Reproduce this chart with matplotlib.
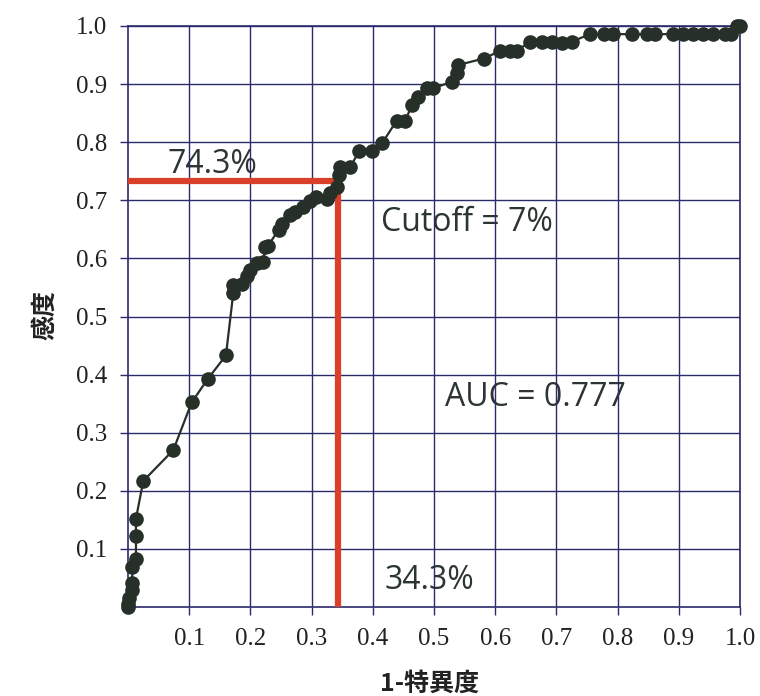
import matplotlib
matplotlib.use("Agg")
import matplotlib.pyplot as plt
import numpy as np

# ROC curve points (1 - specificity, sensitivity)
fpr = [0.0, 0.0, 0.002, 0.007, 0.007, 0.007, 0.013, 0.013, 0.013, 0.025,
       0.074, 0.104, 0.130, 0.160, 0.172, 0.172, 0.186, 0.194, 0.199, 0.210,
       0.221, 0.224, 0.229, 0.246, 0.251, 0.265, 0.273, 0.286, 0.297, 0.308,
       0.325, 0.330, 0.341, 0.345, 0.347, 0.363, 0.378, 0.398, 0.415, 0.439,
       0.453, 0.464, 0.474, 0.488, 0.499, 0.529, 0.537, 0.540, 0.581, 0.608,
       0.624, 0.635, 0.657, 0.676, 0.692, 0.709, 0.725, 0.755, 0.777, 0.793,
       0.823, 0.848, 0.861, 0.891, 0.907, 0.924, 0.940, 0.956, 0.975, 0.985,
       0.995, 1.0]
tpr = [0.0, 0.006, 0.016, 0.029, 0.041, 0.069, 0.083, 0.122, 0.152, 0.217,
       0.270, 0.352, 0.392, 0.433, 0.540, 0.554, 0.556, 0.569, 0.580, 0.592,
       0.594, 0.620, 0.622, 0.649, 0.660, 0.675, 0.680, 0.689, 0.698, 0.706,
       0.703, 0.713, 0.723, 0.743, 0.757, 0.757, 0.785, 0.784, 0.798, 0.837,
       0.837, 0.864, 0.878, 0.893, 0.893, 0.904, 0.919, 0.933, 0.944, 0.957,
       0.957, 0.957, 0.973, 0.973, 0.973, 0.970, 0.973, 0.986, 0.986, 0.986,
       0.986, 0.986, 0.986, 0.986, 0.986, 0.986, 0.986, 0.986, 0.986, 0.986,
       1.0, 1.0]

cut_x = 0.343   # 34.3%
cut_y = 0.733   # red line height as drawn
ticks = [0.1, 0.2, 0.3, 0.4, 0.5, 0.6, 0.7, 0.8, 0.9, 1.0]
tick_labels = ['0.1', '0.2', '0.3', '0.4', '0.5', '0.6', '0.7', '0.8', '0.9', '1.0']

navy = '#2b2a6b'
dark = '#263029'
red = '#d8402a'
txt = '#2c3434'
cjk = ['Noto Sans CJK JP', 'DejaVu Sans']

fig = plt.figure(figsize=(7.6, 6.96), dpi=100)
ax = fig.add_axes([128/760, 1 - 607/696, 612/760, 581/696])

ax.set_xlim(0, 1.0)
ax.set_ylim(0, 1.0)
ax.set_xticks(ticks)
ax.set_yticks(ticks)
ax.set_xticklabels(tick_labels, family='Liberation Serif', fontsize=18)
ax.set_yticklabels(tick_labels, family='Liberation Serif', fontsize=18)
ax.tick_params(direction='out', length=6, width=1, color=navy, labelcolor='#222222', pad=9)
ax.grid(True, color=navy, linewidth=1.0, zorder=2)
ax.set_axisbelow(False)
for s in ax.spines.values():
  s.set_color(navy)
  s.set_linewidth(1.2)

# cutoff lines
ax.plot([0, cut_x], [cut_y, cut_y], color=red, linewidth=4.5, solid_capstyle='butt', zorder=3)
ax.plot([cut_x, cut_x], [0, cut_y], color=red, linewidth=4.5, solid_capstyle='butt', zorder=3)

# ROC curve
ax.plot(fpr, tpr, color=dark, linewidth=1.6, marker='o', markersize=9.5,
        markerfacecolor=dark, markeredgecolor=dark, zorder=4, clip_on=False)

# annotations
ax.text(0.065, 0.761, '74.3%', family='Open Sans', fontsize=23, color=txt, va='center', zorder=1)
ax.text(0.413, 0.661, 'Cutoff = 7%', family='Open Sans', fontsize=23, color=txt, va='center', zorder=1)
ax.text(0.518, 0.360, 'AUC = 0.777', family='Open Sans', fontsize=23, color=txt, va='center', zorder=1)
ax.text(0.420, 0.046, '34.3%', family='Open Sans', fontsize=23, color=txt, va='center', zorder=1)

fig.text(430/760, 1 - 684/696, '1-特異度', family=cjk, fontsize=18, fontweight='bold',
         color='#222222', ha='center', va='center')
fig.text(45/760, 1 - 315/696, '感度', family=cjk, fontsize=18, fontweight='bold',
         color='#222222', ha='center', va='center', rotation=90)

fig.savefig('out.png', dpi=100)
